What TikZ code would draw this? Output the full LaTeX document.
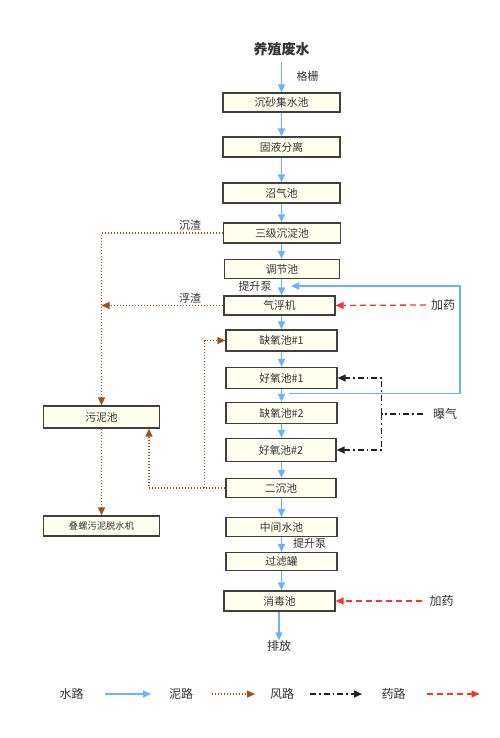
\documentclass[tikz,border=0pt]{standalone}
\usepackage{fontspec}
\setmainfont{Noto Sans CJK SC}
\usetikzlibrary{arrows.meta}
\definecolor{boxfill}{HTML}{FFFFEE}
\definecolor{boxline}{HTML}{404040}
\definecolor{water}{HTML}{66B3FF}
\definecolor{mud}{HTML}{A0500F}
\definecolor{air}{HTML}{222222}
\definecolor{drug}{HTML}{FF3030}
\definecolor{txt}{HTML}{333333}
\begin{document}
\begin{tikzpicture}[x=1pt,y=-1pt,
  proc/.style={draw=boxline,fill=boxfill,line width=1.2pt,inner sep=0pt,font=\fontsize{10.8}{12}\selectfont,text=txt},
  lbl/.style={inner sep=0pt,font=\fontsize{11}{13}\selectfont,text=txt},
  big/.style={font=\fontsize{12}{14}\selectfont},
  wline/.style={draw=water,line width=1.4pt,-{Triangle[length=8pt,width=7pt]}},
  mline/.style={draw=mud,line width=1.3pt,dash pattern=on 1.3pt off 1.7pt,-{Triangle[length=8pt,width=7pt]}},
  aline/.style={draw=air,line width=1.3pt,dash pattern=on 6pt off 3pt on 1.5pt off 3pt,-{Triangle[length=8pt,width=7pt]}},
  dline/.style={draw=drug,line width=1.3pt,dash pattern=on 6pt off 4pt,-{Triangle[length=8pt,width=7pt]}}]
\useasboundingbox (0,0) rectangle (500,738);
\fill[white] (0,0) rectangle (500,738);
% title
\node[lbl,font=\fontsize{14}{16}\selectfont\bfseries] (t) at (281.5,49) {养殖废水};
% process boxes
\node[proc,minimum width=117pt,minimum height=19pt] (b1) at (281.5,102.5) {沉砂集水池};
\node[proc,minimum width=117pt,minimum height=20pt] (b2) at (281.5,147) {固液分离};
\node[proc,minimum width=117pt,minimum height=20pt] (b3) at (281.5,193) {沼气池};
\node[proc,minimum width=117pt,minimum height=20pt] (b4) at (282,233) {三级沉淀池};
\node[proc,minimum width=115pt,minimum height=19pt] (b5) at (282,269) {调节池};
\node[proc,minimum width=111pt,minimum height=19pt] (b6) at (279.5,305.5) {气浮机};
\node[proc,minimum width=111pt,minimum height=21pt] (b7) at (281.5,340.5) {缺氧池\#1};
\node[proc,minimum width=111pt,minimum height=21pt] (b8) at (281.5,378) {好氧池\#1};
\node[proc,minimum width=111pt,minimum height=21pt] (b9) at (281.5,413) {缺氧池\#2};
\node[proc,minimum width=110pt,minimum height=23pt] (b10) at (281,450) {好氧池\#2};
\node[proc,minimum width=110pt,minimum height=19pt] (b11) at (281,488) {二沉池};
\node[proc,minimum width=111pt,minimum height=19pt] (b12) at (281.5,527) {中间水池};
\node[proc,minimum width=111pt,minimum height=18pt] (b13) at (281.5,561.5) {过滤罐};
\node[proc,minimum width=111pt,minimum height=20pt] (b14) at (279.5,601) {消毒池};
\node[proc,minimum width=116pt,minimum height=22pt] (s1) at (101.5,417) {污泥池};
\node[proc,minimum width=116pt,minimum height=20pt,font=\fontsize{9.3}{11}\selectfont] (s2) at (101.5,526) {叠螺污泥脱水机};
\node[lbl,big] (out) at (279,646) {排放};
% labels
\node[lbl] (lg) at (307.5,76) {格栅};
\node[lbl] (lp1) at (255,286) {提升泵};
\node[lbl] (lp2) at (309.5,543) {提升泵};
\node[lbl] (lcz) at (190,225) {沉渣};
\node[lbl] (lfz) at (190,298) {浮渣};
\node[lbl,big] (jy1) at (443,305) {加药};
\node[lbl,big] (jy2) at (441.5,601) {加药};
\node[lbl,big] (bq) at (445,414) {曝气};
% main water flow
\draw[wline] (t.south) ++(0,6) coordinate (t0) -- (t0 |- b1.north);
\draw[wline] (b1.south -| t0) -- (t0 |- b2.north);
\draw[wline] (b2.south -| t0) -- (t0 |- b3.north);
\draw[wline] (b3.south -| t0) -- (t0 |- b4.north);
\draw[wline] (b4.south -| t0) -- (t0 |- b5.north);
\draw[wline] (b5.south -| t0) -- (t0 |- b6.north);
\draw[wline] (b6.south -| t0) -- (t0 |- b7.north);
\draw[wline] (b7.south -| t0) -- (t0 |- b8.north);
\draw[wline] (b8.south -| t0) -- (t0 |- b9.north);
\draw[wline] (b9.south -| t0) -- (t0 |- b10.north);
\draw[wline] (b10.south -| t0) -- (t0 |- b11.north);
\draw[wline] (b11.south -| t0) -- (t0 |- b12.north);
\draw[wline] (b12.south -| t0) -- (t0 |- b13.north);
\draw[wline] (b13.south -| t0) -- (t0 |- b14.north);
\draw[wline] (b14.south -| out) -- (out.north);
% recirculation
\coordinate (r1) at (289,393.5);
\coordinate (r4) at (291,286);
\draw[wline] (r1) -- (460,393.5) -- (460,286) -- (r4);
% dosing
\draw[dline] (jy1.west) ++(-5,0) -- (b6.east);
\draw[dline] (jy2.west) ++(-7,0) -- (b14.east);
% aeration
\coordinate (a0) at (381.5,414);
\draw[draw=air,line width=1.3pt,dash pattern=on 6pt off 3pt on 1.5pt off 3pt] (bq.west) ++(-10,0) -- (a0);
\draw[aline] (a0) -- (a0 |- b8.east) -- (b8.east);
\draw[aline] (a0) -- (a0 |- b10.east) -- (b10.east);
% sludge
\draw[mline] (b4.west) -- (s1.north |- b4.west) -- (s1.north);
\draw[mline] (b6.west) -- (s1.north |- b6.west);
\coordinate (m1) at (149,488);
\coordinate (m2) at (204.5,488);
\draw[mline] (b11.west) -- (m1) -- (m1 |- s1.south);
\draw[mline] (m2) -- (m2 |- b7.west) -- (b7.west);
\draw[mline] (s1.south) -- (s2.north);
% legend
\node[lbl,big] (L1) at (71.5,694) {水路};
\node[lbl,big] (L2) at (181,694) {泥路};
\node[lbl,big] (L3) at (282,694) {风路};
\node[lbl,big] (L4) at (393.5,694) {药路};
\coordinate (k1a) at (105,694); \coordinate (k1b) at (151,694);
\coordinate (k2a) at (211.5,694); \coordinate (k2b) at (255,694);
\coordinate (k3a) at (310,694); \coordinate (k3b) at (362,694);
\coordinate (k4a) at (427,694); \coordinate (k4b) at (479.5,694);
\draw[wline] (k1a) -- (k1b);
\draw[mline] (k2a) -- (k2b);
\draw[aline] (k3a) -- (k3b);
\draw[dline] (k4a) -- (k4b);
\end{tikzpicture}
\end{document}
